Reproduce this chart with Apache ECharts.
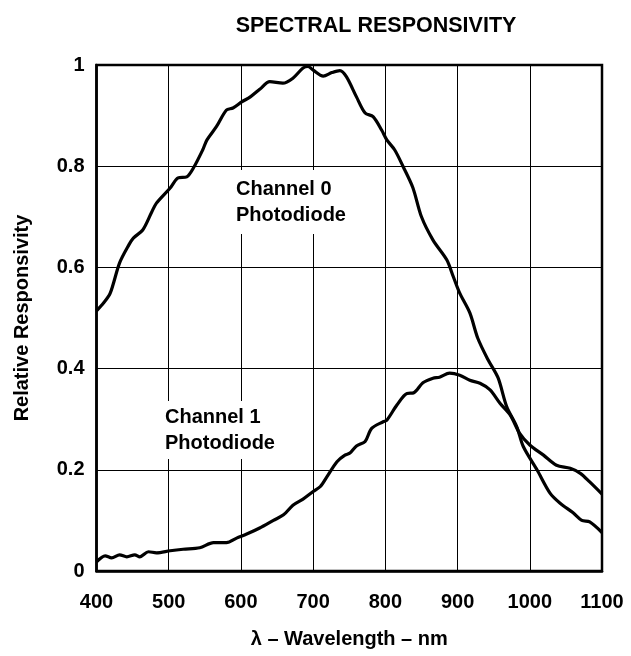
<!DOCTYPE html>
<html>
<head>
<meta charset="utf-8">
<script src="https://cdn.jsdelivr.net/npm/echarts@6/dist/echarts.min.js"></script>
<style>
html,body{margin:0;padding:0;background:#fff;}
#chart{width:631px;height:656px;}
</style>
</head>
<body>
<div id="chart"></div>
<script>
var titleText = 'SPECTRAL RESPONSIVITY';
var xAxisName = 'λ – Wavelength – nm';
var yAxisName = 'Relative Responsivity';
var xTicks = [400, 500, 600, 700, 800, 900, 1000, 1100];
var yTicks = [0, 0.2, 0.4, 0.6, 0.8, 1];

var ch0Wavelength = [400,410,419,432,445,451,464,476,483,502,513,525,534,547,553,566,580,589,601,613,626,640,658,672,686,693,700,714,726,737,746,760,772,783,795,802,813,824,838,850,866,885,894,903,917,928,942,956,968,982,991,1010,1028,1042,1060,1072,1083,1100];
var ch0Values = [0.514,0.530,0.549,0.609,0.645,0.658,0.674,0.708,0.727,0.757,0.777,0.779,0.796,0.832,0.852,0.878,0.911,0.915,0.927,0.937,0.952,0.967,0.964,0.974,0.994,0.997,0.990,0.978,0.985,0.989,0.977,0.937,0.905,0.898,0.871,0.852,0.832,0.801,0.758,0.700,0.654,0.615,0.582,0.549,0.510,0.460,0.418,0.382,0.325,0.285,0.246,0.200,0.154,0.134,0.115,0.100,0.097,0.076];

var ch1Wavelength = [400,412,421,432,442,453,460,472,483,502,520,543,562,580,594,608,626,645,659,672,686,700,710,719,733,744,751,760,772,781,797,802,816,830,839,852,866,875,889,903,917,931,945,959,973,986,1000,1019,1037,1056,1070,1083,1100];
var ch1Values = [0.018,0.030,0.026,0.032,0.028,0.032,0.028,0.038,0.036,0.040,0.043,0.046,0.056,0.056,0.065,0.073,0.085,0.100,0.111,0.130,0.142,0.157,0.167,0.186,0.216,0.229,0.233,0.247,0.256,0.282,0.295,0.298,0.328,0.351,0.352,0.372,0.381,0.383,0.391,0.387,0.377,0.371,0.358,0.331,0.308,0.272,0.249,0.229,0.209,0.203,0.193,0.176,0.152];

var ch0Label = 'Channel 0\nPhotodiode';
var ch1Label = 'Channel 1\nPhotodiode';

function pairs(xs, ys) { return xs.map(function (x, i) { return [x, ys[i]]; }); }

var FONT = 'Arial, "Liberation Sans", Helvetica, sans-serif';
var chart = echarts.init(document.getElementById('chart'), null, {renderer: 'canvas'});

chart.setOption({
  animation: false,
  backgroundColor: '#fff',
  title: {
    text: titleText,
    left: 371,
    top: 10,
    textAlign: 'center',
    textStyle: {fontFamily: FONT, fontWeight: 'bold', fontSize: 21.5, color: '#000'}
  },
  grid: {
    left: 96.5, right: 29, top: 65, bottom: 85,
    show: true, borderColor: '#000', borderWidth: 2.5, backgroundColor: 'transparent'
  },
  xAxis: {
    type: 'value',
    min: xTicks[0], max: xTicks[xTicks.length - 1], interval: 100,
    name: xAxisName, nameLocation: 'middle', nameGap: 58,
    nameTextStyle: {fontFamily: FONT, fontWeight: 'bold', fontSize: 20, color: '#000'},
    axisLine: {show: true, lineStyle: {color: '#000', width: 2.5}},
    axisTick: {show: false},
    splitLine: {show: true, lineStyle: {color: '#000', width: 1}},
    axisLabel: {
      margin: 21, showMinLabel: true, showMaxLabel: true, hideOverlap: false,
      fontFamily: FONT, fontWeight: 'bold', fontSize: 20, color: '#000',
      formatter: function (v) { return String(Math.round(v)); }
    }
  },
  yAxis: {
    type: 'value',
    min: yTicks[0], max: yTicks[yTicks.length - 1], interval: 0.2,
    name: yAxisName, nameLocation: 'middle', nameGap: 64, nameRotate: 90,
    nameTextStyle: {fontFamily: FONT, fontWeight: 'bold', fontSize: 20, color: '#000'},
    axisLine: {show: true, lineStyle: {color: '#000', width: 2.5}},
    axisTick: {show: false},
    splitLine: {show: true, lineStyle: {color: '#000', width: 1}},
    axisLabel: {
      margin: 12, showMinLabel: true, showMaxLabel: true, hideOverlap: false,
      fontFamily: FONT, fontWeight: 'bold', fontSize: 20, color: '#000',
      padding: [4, 0, 0, 0],
      formatter: function (v) { return String(Math.round(v * 10) / 10); }
    }
  },
  series: [
    {
      name: 'Channel 0', type: 'line', data: pairs(ch0Wavelength, ch0Values),
      showSymbol: false, smooth: 0.3, z: 5,
      lineStyle: {color: '#000', width: 3.2}
    },
    {
      name: 'Channel 1', type: 'line', data: pairs(ch1Wavelength, ch1Values),
      showSymbol: false, smooth: 0.3, z: 5,
      lineStyle: {color: '#000', width: 3.2}
    }
  ],
  graphic: [
    {
      type: 'text', left: 230, top: 170, z: 10,
      style: {
        text: ch0Label, font: 'bold 20px ' + FONT, lineHeight: 26,
        fill: '#000', backgroundColor: '#fff', padding: [6, 6]
      }
    },
    {
      type: 'text', left: 159, top: 401, z: 10,
      style: {
        text: ch1Label, font: 'bold 20px ' + FONT, lineHeight: 26,
        fill: '#000', backgroundColor: '#fff', padding: [3, 6]
      }
    }
  ]
});
</script>
</body>
</html>
